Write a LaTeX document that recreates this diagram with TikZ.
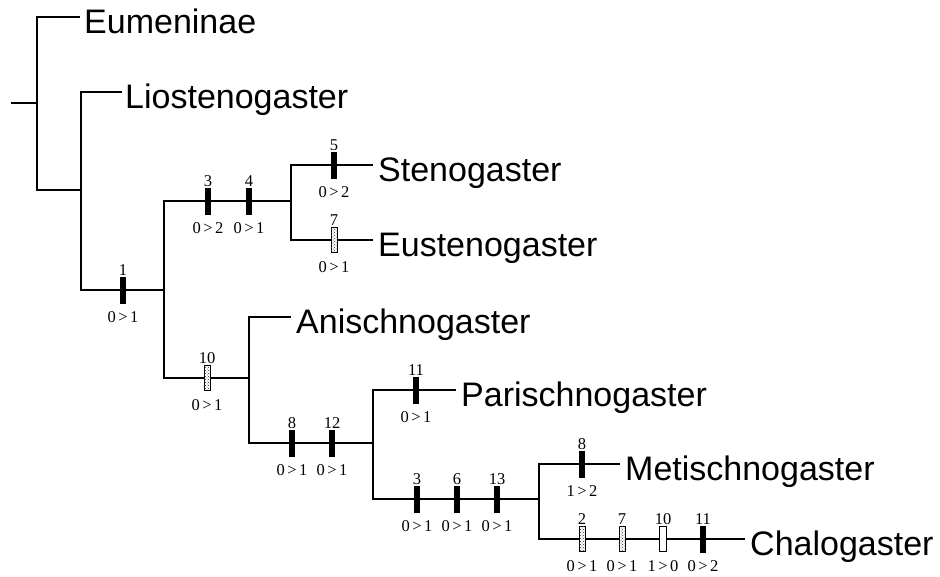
\documentclass[tikz,border=0pt]{standalone}
\usepackage{fontspec}
\setmainfont{Liberation Serif}
\newfontfamily\taxfont{Liberation Sans}
\usetikzlibrary{calc,patterns}

\tikzset{
  branch/.style={line width=2pt},
  blackbar/.style={rectangle, fill=black, minimum width=6.5pt, minimum height=27pt, inner sep=0pt, outer sep=0pt},
  dotbar/.style={rectangle, draw=black, line width=0.7pt, fill=white, postaction={pattern=crosshatch dots, pattern color=black!80}, minimum width=6pt, minimum height=25pt, inner sep=0pt},
  openbar/.style={rectangle, draw=black, fill=white, line width=1pt, minimum width=6.5pt, minimum height=25pt, inner sep=0pt},
  numtxt/.style={font=\fontsize{16.5}{16.5}\selectfont, inner sep=0pt, anchor=base},
  taxon/.style={font=\taxfont\fontsize{34}{34}\selectfont, inner sep=0pt, anchor=base west},
}
\newcommand\chg[2]{#1\hspace{2.5pt}>\hspace{2.5pt}#2}
\newcommand\charmark[6]{%
  \node[#4] (#1) at (#2,#3) {};
  \node[numtxt] (#1n) at (#2,#3+15) {#5};
  \node[numtxt] (#1c) at (#2,#3-32) {#6};
}

\begin{document}
\begin{tikzpicture}[x=1pt,y=1pt]
\useasboundingbox (0,0) rectangle (940,-576);

% internal nodes
\coordinate (root) at (11,-103);
\coordinate (n1) at (37,-103);
\coordinate (n2) at (81,-190);
\coordinate (n3) at (164,-290);
\coordinate (n4) at (291,-201);
\coordinate (n5) at (249,-378);
\coordinate (n6) at (373,-443);
\coordinate (n7) at (539,-499);
% leaf ends
\coordinate (eumE) at (80,-17);
\coordinate (lioE) at (122,-92);
\coordinate (steE) at (373,-165);
\coordinate (eusE) at (373,-240);
\coordinate (aniE) at (291,-317);
\coordinate (parE) at (456,-390);
\coordinate (metE) at (620,-464);
\coordinate (chaE) at (745,-539);

% branches
\draw[branch] (root) -- (n1);
\draw[branch] (n1) |- (eumE);
\draw[branch] (n1) |- (n2);
\draw[branch] (n2) |- (lioE);
\draw[branch] (n2) |- (n3);
\draw[branch] (n3) |- (n4);
\draw[branch] (n3) |- (n5);
\draw[branch] (n4) |- (steE);
\draw[branch] (n4) |- (eusE);
\draw[branch] (n5) |- (aniE);
\draw[branch] (n5) |- (n6);
\draw[branch] (n6) |- (parE);
\draw[branch] (n6) |- (n7);
\draw[branch] (n7) |- (metE);
\draw[branch] (n7) |- (chaE);

% taxa
\node[taxon] (eum) at (84,-33) {Eumeninae};
\node[taxon] (lio) at (125,-108) {Liostenogaster};
\node[taxon] (ste) at (378,-181) {Stenogaster};
\node[taxon] (eus) at (378,-256) {Eustenogaster};
\node[taxon] (ani) at (296,-333) {Anischnogaster};
\node[taxon] (par) at (461,-406) {Parischnogaster};
\node[taxon] (met) at (625,-480) {Metischnogaster};
\node[taxon] (cha) at (750,-555) {Chalogaster};

% character changes
\charmark{mA}{123}{-290}{blackbar}{1}{\chg01}
\charmark{mB}{208}{-201}{blackbar}{3}{\chg02}
\charmark{mC}{249}{-201}{blackbar}{4}{\chg01}
\charmark{mD}{334}{-165}{blackbar}{5}{\chg02}
\charmark{mE}{334}{-240}{dotbar}{7}{\chg01}
\charmark{mF}{207}{-378}{dotbar}{10}{\chg01}
\charmark{mG}{292}{-443}{blackbar}{8}{\chg01}
\charmark{mH}{332}{-443}{blackbar}{12}{\chg01}
\charmark{mI}{416}{-390}{blackbar}{11}{\chg01}
\charmark{mJ}{417}{-499}{blackbar}{3}{\chg01}
\charmark{mK}{457}{-499}{blackbar}{6}{\chg01}
\charmark{mL}{497}{-499}{blackbar}{13}{\chg01}
\charmark{mM}{582}{-464}{blackbar}{8}{\chg12}
\charmark{mN}{582}{-539}{dotbar}{2}{\chg01}
\charmark{mO}{622}{-539}{dotbar}{7}{\chg01}
\charmark{mP}{663}{-539}{openbar}{10}{\chg10}
\charmark{mQ}{703}{-539}{blackbar}{11}{\chg02}
\end{tikzpicture}
\end{document}
